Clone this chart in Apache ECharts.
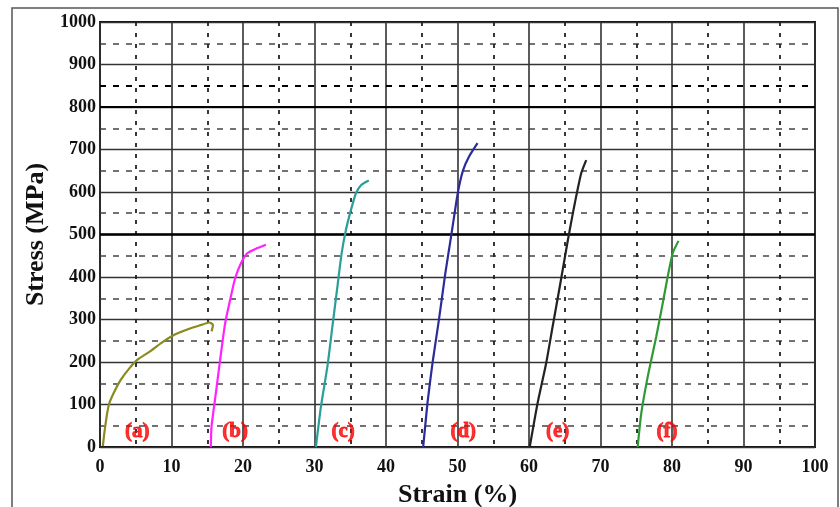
<!DOCTYPE html>
<html>
<head>
<meta charset="utf-8">
<script src="https://cdn.jsdelivr.net/npm/echarts@6/dist/echarts.min.js"></script>
<style>
  html, body { margin: 0; padding: 0; background: #fff; }
  #chart { width: 840px; height: 507px; }
</style>
</head>
<body>
<div id="chart"></div>
<script>
// strain (%) / stress (MPa) pairs
const curveA = [[0.4, 2], [0.6, 32], [1.0, 79], [1.3, 103], [2.0, 130], [2.9, 158], [4.1, 185], [5.2, 205], [6.9, 224], [8.5, 244], [10.4, 264], [12.3, 277], [14.1, 287], [15.3, 293], [15.8, 287], [15.6, 272]]
const curveB = [[15.5, 0], [15.6, 48], [16.2, 126], [16.8, 205], [17.5, 291], [18.3, 354], [18.9, 397], [19.7, 432], [20.6, 456], [22.0, 468], [23.2, 476]]
const curveC = [[30.2, 0], [30.9, 95], [31.8, 189], [32.5, 283], [33.2, 377], [33.8, 456], [34.4, 511], [35.1, 558], [35.8, 597], [36.5, 616], [37.6, 627]]
const curveD = [[45.2, 0], [45.8, 103], [46.5, 197], [47.4, 299], [48.3, 409], [49.1, 495], [49.8, 573], [50.2, 612], [50.8, 652], [51.6, 683], [52.8, 715]]
const curveE = [[60.1, 0], [61.2, 103], [62.4, 197], [63.3, 283], [64.3, 377], [65.2, 464], [65.7, 511], [66.4, 573], [67.3, 644], [68.0, 675]]
const curveF = [[75.2, 0], [75.7, 79], [76.6, 165], [77.8, 260], [78.7, 338], [79.4, 401], [80.1, 456], [80.9, 485]]

const curveNames = ['(a)', '(b)', '(c)', '(d)', '(e)', '(f)']
const curveColors = ['#8a8a1e', '#ff22ff', '#2a9f9a', '#2b2b9a', '#222222', '#2f9a35']
const labelStrain = [5.2, 18.9, 34.0, 50.8, 64.0, 79.3]
const labelStress = [36, 36, 36, 36, 36, 36]

const curves = [curveA, curveB, curveC, curveD, curveE, curveF]

const chart = echarts.init(document.getElementById('chart'), null, { renderer: 'canvas' })

const serif = '"Liberation Serif", "DejaVu Serif", serif'

const lineSeries = curves.map((data, i) => ({
  name: curveNames[i],
  type: 'line',
  data,
  showSymbol: false,
  smooth: 0.2,
  z: 5,
  lineStyle: { color: curveColors[i], width: 2.2 }
}))

chart.setOption({
  animation: false,
  backgroundColor: '#fff',
  graphic: [
    {
      type: 'rect',
      shape: { x: 12, y: 8, width: 826, height: 520 },
      style: { fill: 'none', stroke: '#555', lineWidth: 1.5 },
      silent: true
    }
  ],
  grid: {
    left: 100, right: 25, top: 22, bottom: 60,
    outerBoundsMode: 'none', containLabel: false,
    show: true, borderColor: '#111', borderWidth: 2
  },
  xAxis: {
    type: 'value',
    min: 0,
    max: 100,
    interval: 10,
    name: 'Strain (%)',
    nameLocation: 'middle',
    nameGap: 35,
    nameTextStyle: { fontFamily: serif, fontWeight: 'bold', fontSize: 26, color: '#111' },
    axisLine: { show: false },
    axisTick: { show: false },
    axisLabel: { fontFamily: serif, fontWeight: 'bold', fontSize: 18, color: '#111', margin: 11 },
    splitLine: { lineStyle: { color: '#333', width: 1.6 } },
    minorTick: { show: false, splitNumber: 2 },
    minorSplitLine: { show: true, lineStyle: { color: '#222', width: 1.8, type: [4, 7] } }
  },
  yAxis: {
    type: 'value',
    min: 0,
    max: 1000,
    interval: 100,
    name: 'Stress (MPa)',
    nameLocation: 'middle',
    nameGap: 49,
    nameTextStyle: { fontFamily: serif, fontWeight: 'bold', fontSize: 26, color: '#111' },
    axisLine: { show: false },
    axisTick: { show: false },
    axisLabel: { fontFamily: serif, fontWeight: 'bold', fontSize: 18, color: '#111', margin: 4, formatter: v => String(v) },
    splitLine: { lineStyle: { color: '#333', width: 1.3 } },
    minorTick: { show: false, splitNumber: 2 },
    minorSplitLine: { show: true, lineStyle: { color: '#444', width: 1.5, type: [6, 7] } }
  },
  series: [
    ...lineSeries,
    {
      type: 'line',
      data: [],
      silent: true,
      markLine: {
        symbol: 'none',
        silent: true,
        label: { show: false },
        data: [
          { yAxis: 500, lineStyle: { color: '#000', width: 2.6, type: 'solid' } },
          { yAxis: 800, lineStyle: { color: '#000', width: 2, type: 'solid' } },
          { yAxis: 850, lineStyle: { color: '#000', width: 2.2, type: [6, 7] } }
        ]
      }
    },
    {
      type: 'scatter',
      symbolSize: 1,
      z: 6,
      silent: true,
      itemStyle: { color: 'rgba(0,0,0,0)' },
      data: labelStrain.map((x, i) => ({ value: [x, labelStress[i]], name: curveNames[i] })),
      label: {
        show: true,
        position: 'inside',
        formatter: p => p.name,
        fontFamily: serif,
        fontWeight: 'bold',
        fontSize: 21,
        color: '#ff0000',
        textBorderColor: '#ee0000',
        textBorderWidth: 0.8
      }
    }
  ]
})
</script>
</body>
</html>
